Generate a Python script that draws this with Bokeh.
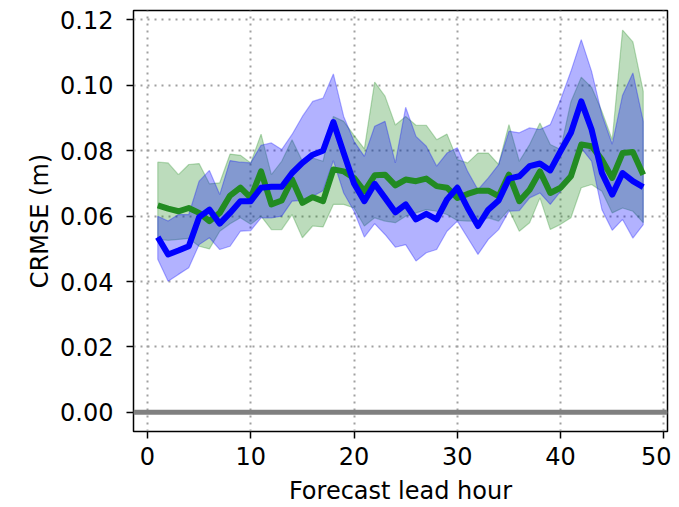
import numpy as np
from bokeh.plotting import figure
from bokeh.models import Range1d, FixedTicker, PrintfTickFormatter, Span
from bokeh.embed import file_html
from bokeh.resources import INLINE

hours = list(range(1, 49))

blue_mean = [0.0536, 0.0483, 0.0495, 0.0508, 0.0597, 0.0620, 0.0577, 0.0610, 0.0646, 0.0646,
             0.0687, 0.0690, 0.0690, 0.0732, 0.0763, 0.0788, 0.0800, 0.0888, 0.0793, 0.0700,
             0.0646, 0.0699, 0.0656, 0.0612, 0.0636, 0.0590, 0.0607, 0.0590, 0.0651, 0.0687,
             0.0625, 0.0570, 0.0620, 0.0648, 0.0715, 0.0722, 0.0753, 0.0761, 0.0740, 0.0799,
             0.0855, 0.0951, 0.0865, 0.0732, 0.0666, 0.0732, 0.0707, 0.0689]
blue_upper = [0.0600, 0.0585, 0.0605, 0.0605, 0.0707, 0.0740, 0.0666, 0.0770, 0.0765, 0.0763,
              0.0817, 0.0824, 0.0804, 0.0850, 0.0905, 0.0951, 0.0961, 0.1035, 0.0905, 0.0829,
              0.0783, 0.0875, 0.0890, 0.0763, 0.0933, 0.0844, 0.0814, 0.0753, 0.0793, 0.0809,
              0.0737, 0.0681, 0.0717, 0.0758, 0.0860, 0.0855, 0.0870, 0.0865, 0.0880, 0.0956,
              0.1043, 0.1140, 0.1043, 0.0910, 0.0820, 0.0970, 0.1038, 0.0890]
blue_lower = [0.0468, 0.0401, 0.0422, 0.0442, 0.0513, 0.0534, 0.0498, 0.0508, 0.0554, 0.0556,
              0.0595, 0.0595, 0.0600, 0.0646, 0.0648, 0.0661, 0.0678, 0.0770, 0.0671, 0.0615,
              0.0536, 0.0577, 0.0544, 0.0505, 0.0513, 0.0463, 0.0488, 0.0498, 0.0554, 0.0585,
              0.0534, 0.0483, 0.0529, 0.0559, 0.0615, 0.0617, 0.0656, 0.0671, 0.0636, 0.0676,
              0.0737, 0.0808, 0.0768, 0.0620, 0.0557, 0.0590, 0.0533, 0.0574]

green_mean = [0.0633, 0.0623, 0.0615, 0.0625, 0.0610, 0.0585, 0.0610, 0.0663, 0.0687, 0.0656,
              0.0737, 0.0636, 0.0648, 0.0712, 0.0641, 0.0658, 0.0646, 0.0743, 0.0737, 0.0717,
              0.0676, 0.0725, 0.0727, 0.0694, 0.0712, 0.0707, 0.0715, 0.0692, 0.0687, 0.0656,
              0.0668, 0.0678, 0.0678, 0.0661, 0.0727, 0.0646, 0.0681, 0.0737, 0.0671, 0.0687,
              0.0722, 0.0819, 0.0814, 0.0773, 0.0717, 0.0793, 0.0796, 0.0727]
green_upper = [0.0765, 0.0763, 0.0727, 0.0758, 0.0761, 0.0699, 0.0702, 0.0790, 0.0786, 0.0763,
               0.0851, 0.0727, 0.0768, 0.0834, 0.0768, 0.0778, 0.0768, 0.0905, 0.0890, 0.0847,
               0.0806, 0.1010, 0.0967, 0.0879, 0.0905, 0.0878, 0.0878, 0.0834, 0.0851, 0.0773,
               0.0763, 0.0793, 0.0793, 0.0758, 0.0880, 0.0768, 0.0819, 0.0885, 0.0819, 0.0804,
               0.0950, 0.1025, 0.0994, 0.0920, 0.0834, 0.1169, 0.1133, 0.0982]
green_lower = [0.0530, 0.0526, 0.0529, 0.0532, 0.0508, 0.0500, 0.0554, 0.0577, 0.0595, 0.0575,
               0.0600, 0.0559, 0.0559, 0.0605, 0.0534, 0.0570, 0.0567, 0.0636, 0.0636, 0.0625,
               0.0570, 0.0595, 0.0585, 0.0580, 0.0600, 0.0610, 0.0620, 0.0615, 0.0605, 0.0587,
               0.0585, 0.0585, 0.0595, 0.0585, 0.0620, 0.0554, 0.0580, 0.0656, 0.0559, 0.0575,
               0.0595, 0.0687, 0.0697, 0.0676, 0.0610, 0.0625, 0.0615, 0.0580]

x_ticks = [0, 10, 20, 30, 40, 50]
y_ticks = [0.00, 0.02, 0.04, 0.06, 0.08, 0.10, 0.12]

FONT = "DejaVu Sans"

p = figure(width=671, height=507, output_backend="svg", toolbar_location=None,
           x_range=Range1d(-1.35, 50.35), y_range=Range1d(-0.00585, 0.1229),
           min_border_left=133, min_border_right=4, min_border_top=10, min_border_bottom=75)

p.outline_line_color = "black"
p.outline_line_width = 1.5
p.outline_line_alpha = 1.0

for ax in (p.xaxis, p.yaxis):
    ax.axis_line_color = None
    ax.major_tick_out = 7
    ax.major_tick_in = 0
    ax.major_tick_line_color = "black"
    ax.major_tick_line_width = 1.5
    ax.minor_tick_line_color = None
    ax.major_label_text_font = FONT
    ax.major_label_text_font_size = "24px"
    ax.major_label_text_color = "black"
    ax.axis_label_text_font = FONT
    ax.axis_label_text_font_size = "24px"
    ax.axis_label_text_font_style = "normal"
    ax.axis_label_text_color = "black"

p.xaxis.ticker = FixedTicker(ticks=x_ticks)
p.yaxis.ticker = FixedTicker(ticks=y_ticks)
p.yaxis.formatter = PrintfTickFormatter(format="%.2f")
p.xaxis.axis_label = "Forecast lead hour"
p.yaxis.axis_label = "CRMSE (m)"
p.xaxis.major_label_standoff = 8
p.yaxis.major_label_standoff = 13
p.xaxis.axis_label_standoff = 9
p.yaxis.axis_label_standoff = 3

p.grid.grid_line_color = "#a0a0a0"
p.grid.grid_line_dash = "2 5"
p.grid.grid_line_width = 2
p.xgrid.ticker = FixedTicker(ticks=x_ticks)
p.ygrid.ticker = FixedTicker(ticks=y_ticks)

h = np.array(hours)
gx = np.concatenate([h, h[::-1]])
gy = np.concatenate([np.array(green_upper), np.array(green_lower)[::-1]])
p.patch(gx, gy, fill_color="#228B22", fill_alpha=0.3, line_color="#228B22", line_alpha=0.3, line_width=1.2)
by = np.concatenate([np.array(blue_upper), np.array(blue_lower)[::-1]])
p.patch(gx, by, fill_color="#0000ff", fill_alpha=0.3, line_color="#0000ff", line_alpha=0.3, line_width=1.2)

zero = Span(location=0, dimension="width", line_color="#808080", line_width=5)
p.add_layout(zero)

p.line(hours, green_mean, line_color="#228B22", line_width=6, line_join="round")
p.line(hours, blue_mean, line_color="#0000ff", line_width=6, line_join="round")

open("out.html", "w").write(file_html(p, INLINE))
